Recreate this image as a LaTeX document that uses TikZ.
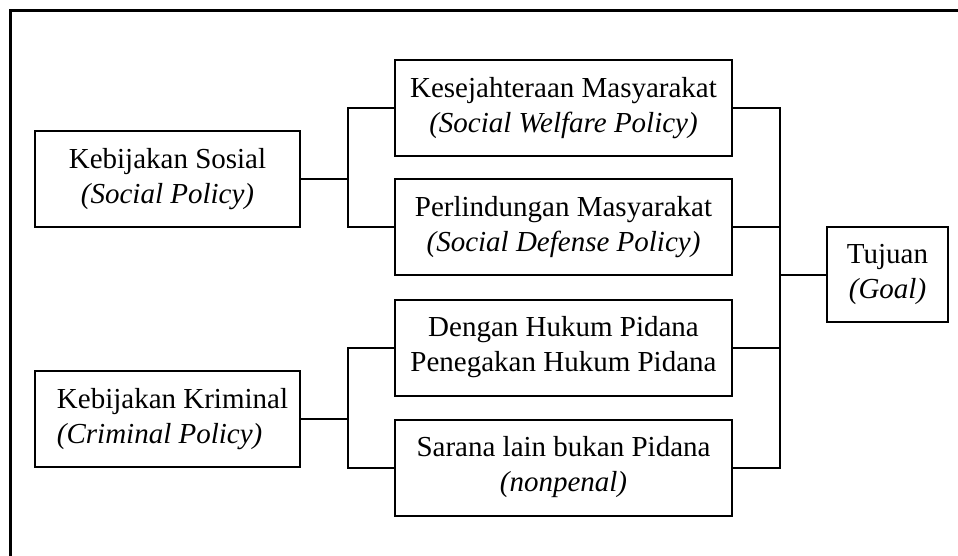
\documentclass[tikz,border=0pt]{standalone}
\usepackage{fontspec}
\setmainfont{Liberation Serif}
\begin{document}
\begin{tikzpicture}[x=0.5pt,y=-0.5pt,
  every node/.style={font=\fontsize{14.5}{17.5}\selectfont},
  box/.style={draw, line width=1pt, inner sep=0pt, align=center,
    minimum width=132.5pt, minimum height=48pt},
  midbox/.style={box, minimum width=168.5pt},
  goalbox/.style={box, minimum width=60.5pt, minimum height=47.5pt},
  link/.style={line width=1pt},
  frame/.style={line width=1.5pt}]
\useasboundingbox (0,0) rectangle (958,556);

% outer frame (top and left edges)
\draw[frame] (10,556) -- (10,11) -- (958,11);

% left column
\node[box] (sos) at (167.5,179) {Kebijakan Sosial\\\textit{(Social Policy)}};
\node[box, align=left] (krim) at (167.5,419)
  {\hspace*{5pt}Kebijakan Kriminal\\\hspace*{5pt}\textit{(Criminal Policy)}};

% middle column
\node[midbox] (kes)  at (563.5,108)   {Kesejahteraan Masyarakat\\\textit{(Social Welfare Policy)}};
\node[midbox] (perl) at (563.5,227)   {Perlindungan Masyarakat\\\textit{(Social Defense Policy)}};
\node[midbox] (deng) at (563.5,347.5) {Dengan Hukum Pidana\\Penegakan Hukum Pidana};
\node[midbox] (sar)  at (563.5,467.5) {Sarana lain bukan Pidana\\\textit{(nonpenal)}};

% goal
\node[goalbox] (tuj) at (887.5,274.5) {Tujuan\\\textit{(Goal)}};

% brackets
\coordinate (j1) at (348,179);
\coordinate (j2) at (348,419);
\coordinate (j3) at (780,274.5);

\draw[link] (sos.east) -- (j1);
\draw[link] (kes.west) -| (j1) |- (perl.west);
\draw[link] (krim.east) -- (j2);
\draw[link] (deng.west) -| (j2) |- (sar.west);

\draw[link] (tuj.west) -- (j3);
\draw[link] (kes.east) -| (j3) |- (sar.east);
\draw[link] (perl.east) -- (perl.east -| j3);
\draw[link] (deng.east) -- (deng.east -| j3);
\end{tikzpicture}
\end{document}
